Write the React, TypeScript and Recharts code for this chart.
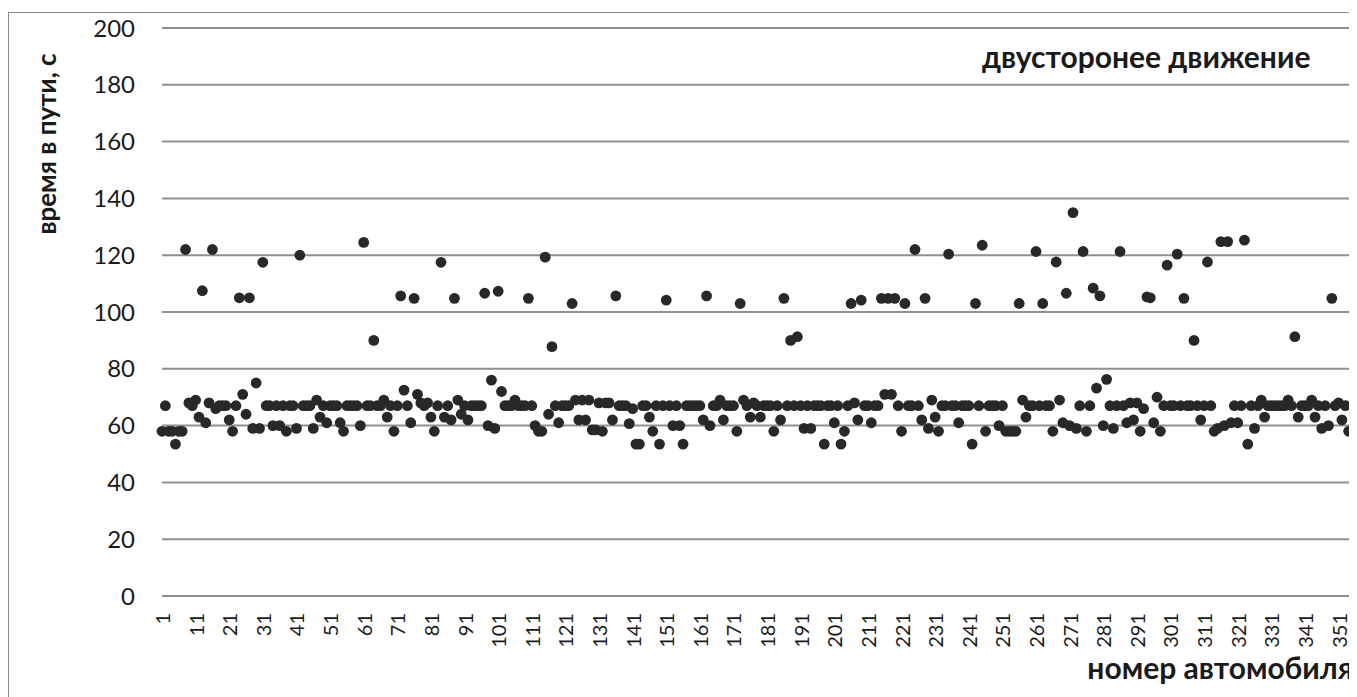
import React from "react";
import {
  ScatterChart,
  Scatter,
  XAxis,
  YAxis,
  CartesianGrid,
} from "recharts";

// время в пути (с) для каждого автомобиля, по порядку номеров 1..355
const travelTimes: number[] = [
  58, 67, 58, 58, 53.5, 58, 58, 122, 68, 67,
  69, 63, 107.5, 61, 68, 122, 66, 67, 67, 67,
  62, 58, 67, 105, 71, 64, 105, 59, 75, 59,
  117.5, 67, 67, 60, 67, 60, 67, 58, 67, 67,
  59, 120, 67, 67, 67, 59, 69, 63, 67, 61,
  67, 67, 67, 61, 58, 67, 67, 67, 67, 60,
  124.5, 67, 67, 90, 67, 67, 69, 63, 67, 58,
  67, 105.7, 72.5, 67, 61, 104.8, 71, 68, 67, 68,
  63, 58, 67, 117.5, 63, 67, 62, 104.8, 69, 64,
  67, 62, 67, 67, 67, 67, 106.6, 60, 76, 59,
  107.3, 72, 67, 67, 67, 69, 67, 67, 67, 104.8,
  67, 60, 58, 58, 119.3, 64, 87.8, 67, 61, 67,
  67, 67, 103, 69, 62, 69, 62, 69, 58.5, 58.5,
  68, 58, 68, 68, 62, 105.7, 67, 67, 67, 60.7,
  66, 53.5, 53.5, 67, 67, 63, 58, 67, 53.5, 67,
  104.2, 67, 60, 67, 60, 53.5, 67, 67, 67, 67,
  67, 62, 105.7, 60, 67, 67, 69, 62, 67, 67,
  67, 58, 103, 69, 67, 63, 68, 67, 63, 67,
  67, 67, 58, 67, 62, 104.8, 67, 90, 67, 91.3,
  67, 59, 67, 59, 67, 67, 67, 53.5, 67, 67,
  61, 67, 53.5, 58, 67, 103, 68, 62, 104.2, 67,
  67, 61, 67, 67, 104.8, 71, 104.8, 71, 104.8, 67,
  58, 103, 67, 67, 122, 67, 62, 104.8, 59, 69,
  63, 58, 67, 67, 120.4, 67, 67, 61, 67, 67,
  67, 53.5, 103, 67, 123.5, 58, 67, 67, 67, 60,
  67, 58, 58, 58, 58, 103, 69, 63, 67, 67,
  121.3, 67, 103, 67, 67, 58, 117.6, 69, 61, 106.6,
  60, 135, 59, 67, 121.3, 58, 67, 108.4, 73.2, 105.7,
  60, 76.3, 67, 59, 67, 121.3, 67, 61, 68, 62,
  68, 58, 66, 105.3, 105, 61, 70, 58, 67, 116.5,
  67, 67, 120.4, 67, 104.8, 67, 67, 90, 67, 62,
  67, 117.6, 67, 58, 59, 124.8, 60, 124.8, 61, 67,
  61, 67, 125.3, 53.5, 67, 59, 67, 69, 63, 67,
  67, 67, 67, 67, 67, 69, 67, 91.3, 63, 67,
  67, 67, 69, 63, 67, 59, 67, 60, 104.8, 67,
  68, 62, 67, 58, 58,
];

const xTicks = [
  1, 11, 21, 31, 41, 51, 61, 71, 81, 91, 101, 111, 121, 131, 141, 151, 161,
  171, 181, 191, 201, 211, 221, 231, 241, 251, 261, 271, 281, 291, 301, 311,
  321, 331, 341, 351,
];
const yTicks = [0, 20, 40, 60, 80, 100, 120, 140, 160, 180, 200];

const seriesName = "двусторонее движение";
const xTitle = "номер автомобиля";
const yTitle = "время в пути, с";

const data = travelTimes.map((t, i) => ({ car: i + 1, time: t }));

const FONT = "Lato, 'Noto Sans', sans-serif";
const INK = "#1a1a1a";
const GRID = "#8f8f8f";

const XTick = (props: any) => {
  const { x, y, payload } = props;
  return (
    <text
      x={x}
      y={y}
      transform={`rotate(-90, ${x}, ${y})`}
      textAnchor="end"
      dominantBaseline="central"
      fontFamily={FONT}
      fontSize={20}
      fill={INK}
    >
      {payload.value}
    </text>
  );
};

const Dot = (props: any) => (
  <circle cx={props.cx} cy={props.cy} r={5.4} fill="#282828" />
);

export default function App() {
  return (
    <div
      style={{
        position: "relative",
        width: 1349,
        height: 689,
        fontFamily: FONT,
        color: INK,
      }}
    >
      <div
        style={{
          position: "absolute",
          left: 0,
          top: 4,
          width: 1347,
          height: 690,
          border: "1px solid #8a8a8a",
        }}
      />
      <div style={{ position: "absolute", left: 0, top: 0 }}>
        <ScatterChart
          width={1349}
          height={689}
          margin={{ top: 20, right: 5, left: 54, bottom: 1 }}
        >
          <CartesianGrid
            vertical={false}
            stroke={GRID}
            strokeWidth={2}
          />
          <XAxis
            type="number"
            dataKey="car"
            domain={[1, 355]}
            ticks={xTicks}
            interval={0}
            axisLine={false}
            tickLine={false}
            tickMargin={11}
            height={100}
            tick={<XTick />}
          />
          <YAxis
            type="number"
            dataKey="time"
            domain={[0, 200]}
            ticks={yTicks}
            interval={0}
            axisLine={false}
            tickLine={false}
            tickMargin={21}
            width={100}
            tick={{ fontFamily: FONT, fontSize: 24, fill: INK }}
          />
          <Scatter
            name={seriesName}
            data={data}
            shape={<Dot />}
            isAnimationActive={false}
          />
        </ScatterChart>
      </div>
      <div
        style={{
          position: "absolute",
          left: 38,
          top: 136,
          transform: "translate(-50%, -50%) rotate(-90deg)",
          whiteSpace: "nowrap",
          fontSize: 26,
          fontWeight: 700,
        }}
      >
        {yTitle}
      </div>
      <div
        style={{
          position: "absolute",
          right: 4,
          top: 659,
          transform: "translateY(-50%)",
          whiteSpace: "nowrap",
          fontSize: 30,
          fontWeight: 700,
        }}
      >
        {xTitle}
      </div>
      <div
        style={{
          position: "absolute",
          left: 974,
          top: 48,
          transform: "translateY(-50%)",
          whiteSpace: "nowrap",
          fontSize: 30,
          fontWeight: 700,
        }}
      >
        {seriesName}
      </div>
    </div>
  );
}
